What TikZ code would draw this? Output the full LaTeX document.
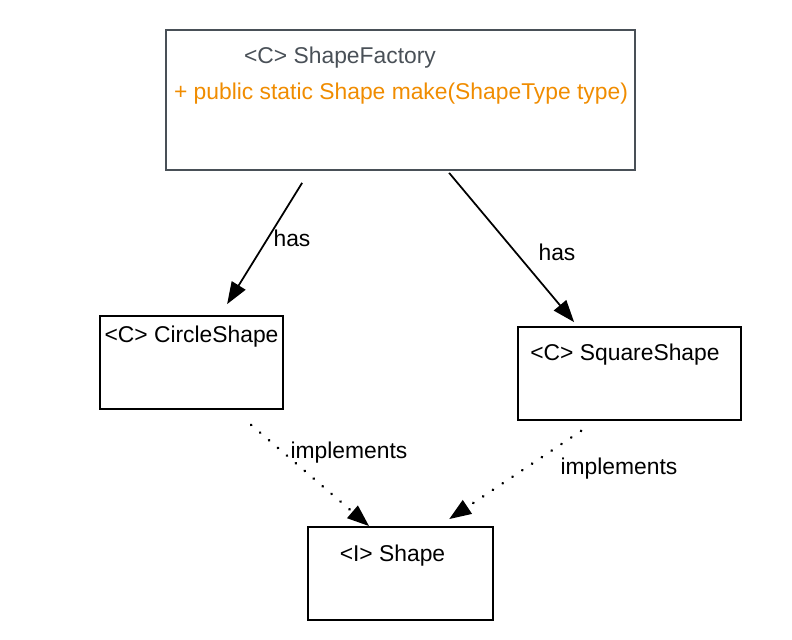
\documentclass[tikz,border=0pt]{standalone}
\usepackage{fontspec}
\setmainfont{Liberation Sans}
\usetikzlibrary{arrows.meta}

\begin{document}
\begin{tikzpicture}[line width=1pt,
    font=\fontsize{13}{15}\selectfont,
    box/.style={draw,rectangle,inner sep=0pt},
    has/.style={-{Triangle[length=0.44cm,width=0.32cm]}},
    impl/.style={-{Triangle[length=0.44cm,width=0.32cm]},line width=1.6pt,
      dash pattern=on 0.1pt off 6.6pt,line cap=round}]

  \definecolor{head}{RGB}{73,80,87} % grey
  \definecolor{method}{RGB}{240,140,0} % orange

  % Fix the margins
  \useasboundingbox (0,0) rectangle (15.84,-12.78);

  % Draw class boxes
  \node[box,draw=head,minimum width=9.38cm,minimum height=2.8cm] (factory) at (8.01,-2.0) {};
  \node[box,minimum width=3.66cm,minimum height=1.86cm] (circle) at (3.83,-7.25) {};
  \node[box,minimum width=4.46cm,minimum height=1.86cm] (square) at (12.59,-7.47) {};
  \node[box,minimum width=3.7cm,minimum height=1.86cm] (shape) at (8.01,-11.47) {};

  % Draw class texts
  \node[head] (factoryname) at (6.8,-1.16) {<C> ShapeFactory};
  \node[method] (make) at (8.02,-1.88) {+ public static Shape make(ShapeType type)};
  \node (circlename) at (3.83,-6.74) {<C> CircleShape};
  \node (squarename) at (12.5,-7.1) {<C> SquareShape};
  \node (shapename) at (7.85,-11.12) {<I> Shape};

  % Draw has lines
  \draw[has] ([xshift=2.74cm,yshift=-0.24cm]factory.south west) --
      ([xshift=2.56cm,yshift=0.22cm]circle.north west);
  \draw[has] ([xshift=5.68cm,yshift=-0.04cm]factory.south west) --
      ([xshift=1.14cm,yshift=0.08cm]square.north west);
  \node (hasleft) at (5.84,-4.76) {has};
  \node (hasright) at (11.14,-5.04) {has};

  % Draw implements lines
  \draw[impl] ([xshift=3.04cm,yshift=-0.3cm]circle.south west) --
      ([xshift=1.24cm]shape.north west);
  \draw[impl] ([xshift=1.28cm,yshift=-0.2cm]square.south west) --
      ([xshift=2.84cm,yshift=0.14cm]shape.north west);
  \node (implleft) at (6.98,-9.06) {implements};
  \node (implright) at (12.38,-9.38) {implements};

\end{tikzpicture}
\end{document}
